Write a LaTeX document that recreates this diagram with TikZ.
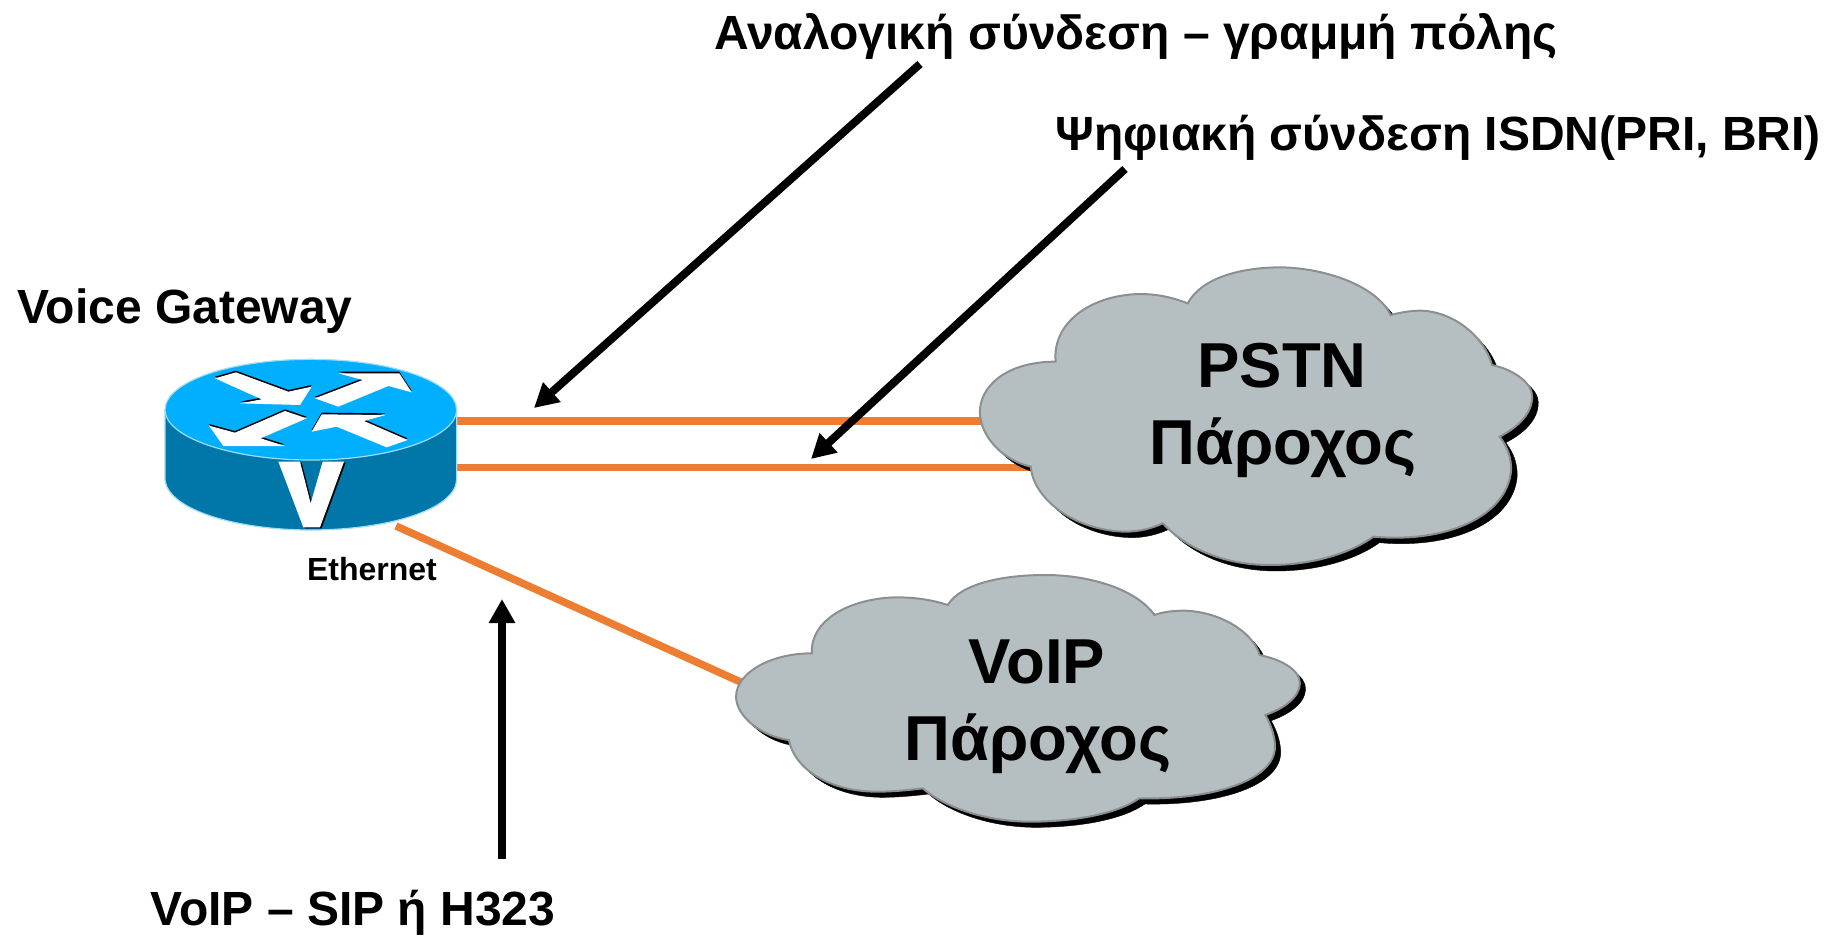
\documentclass[tikz,border=0pt]{standalone}
\usepackage{fontspec}
\setmainfont{Liberation Sans}
\usetikzlibrary{arrows.meta}
\definecolor{orangeline}{HTML}{ED7D31}
\definecolor{cloudfill}{HTML}{B5BFC2}
\definecolor{cloudedge}{HTML}{8C8F91}
\definecolor{routertop}{HTML}{00B0FF}
\definecolor{routerside}{HTML}{0077A8}
\definecolor{routeredge}{HTML}{9FDCF5}
\tikzset{
  lbl/.style={font=\bfseries\fontsize{48}{52}\selectfont,anchor=base,inner sep=0pt,text=black},
  cloudlbl/.style={font=\bfseries\fontsize{63.5}{67}\selectfont,anchor=base,inner sep=0pt,text=black},
  smalllbl/.style={font=\bfseries\fontsize{32}{36}\selectfont,anchor=base,inner sep=0pt,text=black},
  pointer/.style={draw=black,line width=8pt,-{Triangle[length=24pt,width=25pt]}},
  link/.style={draw=orangeline,line width=7.5pt},
  cloudbody/.style={fill=cloudfill,draw=cloudedge,line width=2pt},
  glyph/.style={fill=white,draw=none},
  glyphshadow/.style={fill=black,draw=none}
}
\def\pstnpath{(250,335) .. controls (120,335) and (50,410) .. (52,490) .. controls (55,560) and (110,630) .. (185,650)
 .. controls (190,740) and (290,840) .. (430,845) .. controls (470,845) and (500,835) .. (530,820)
 .. controls (590,895) and (690,945) .. (810,945) .. controls (920,945) and (1020,910) .. (1080,860)
 .. controls (1270,880) and (1430,800) .. (1440,660) .. controls (1440,620) and (1430,590) .. (1410,560)
 .. controls (1460,530) and (1495,490) .. (1495,440) .. controls (1495,400) and (1450,360) .. (1390,345)
 .. controls (1370,260) and (1290,185) .. (1205,182) .. controls (1175,182) and (1150,188) .. (1125,195)
 .. controls (1090,110) and (960,55) .. (840,52) .. controls (730,52) and (630,85) .. (595,160)
 .. controls (550,140) and (510,132) .. (470,132) .. controls (340,135) and (240,220) .. (250,335) -- cycle}
\def\voippath{(240,280) .. controls (130,280) and (42,340) .. (42,410) .. controls (42,470) and (110,530) .. (180,540)
 .. controls (195,630) and (290,695) .. (410,695) .. controls (450,695) and (495,690) .. (530,685)
 .. controls (590,745) and (700,785) .. (810,785) .. controls (930,785) and (1040,760) .. (1095,715)
 .. controls (1290,720) and (1450,660) .. (1450,560) .. controls (1450,530) and (1440,495) .. (1425,465)
 .. controls (1475,445) and (1515,410) .. (1515,370) .. controls (1515,330) and (1470,300) .. (1410,285)
 .. controls (1390,210) and (1300,155) .. (1215,152) .. controls (1185,152) and (1160,155) .. (1135,165)
 .. controls (1090,90) and (970,45) .. (850,45) .. controls (740,45) and (630,70) .. (595,135)
 .. controls (550,118) and (505,112) .. (460,112) .. controls (340,115) and (235,180) .. (240,280) -- cycle}
\def\arrowA{(225,115) -- (288,97) -- (445,155) -- (515,140) -- (480,195) -- (300,190) -- (365,178) -- cycle}
\def\arrowB{(525,175) -- (668,120) -- (595,100) -- (778,100) -- (815,157) -- (745,138) -- (595,200) -- cycle}
\def\arrowC{(207,257) -- (285,278) -- (435,213) -- (500,235) -- (362,295) -- (435,318) -- (250,318) -- cycle}
\def\arrowD{(515,275) -- (545,223) -- (737,225) -- (672,243) -- (803,300) -- (740,322) -- (590,260) -- cycle}
\def\vee{(415,365) -- (480,365) -- (512,490) -- (548,365) -- (612,365) -- (540,562) -- (490,562) -- cycle}
\begin{document}
\begin{tikzpicture}[x=1pt,y=-1pt]
\useasboundingbox (0,0) rectangle (1832,937);
% link end points
\coordinate (routerR1) at (457,421);
\coordinate (routerR2) at (457,467.5);
\coordinate (routerB) at (396,526);
\coordinate (pstnL1) at (985,421);
\coordinate (pstnL2) at (1035,467.5);
\coordinate (voipL) at (745,684);
\draw[link] (routerR1) -- (pstnL1);
\draw[link] (routerR2) -- (pstnL2);
\draw[link] (routerB) -- (voipL);
% PSTN cloud
\begin{scope}[shift={(960,250)},xscale=1/2.613,yscale=1/3]
 \begin{scope}[shift={(16,18)}]
  \fill[black,draw=black] \pstnpath;
 \end{scope}
 \path[cloudbody] \pstnpath;
\end{scope}
% VoIP cloud
\begin{scope}[shift={(720,560)},xscale=1/2.613,yscale=1/3]
 \begin{scope}[shift={(15,17)}]
  \fill[black,draw=black] \voippath;
 \end{scope}
 \path[cloudbody] \voippath;
\end{scope}
% router
\begin{scope}[shift={(140,340)},scale=1/3]
 \path[fill=routerside,draw=routeredge,line width=1.2pt]
   (75,210) -- (75,420) .. controls (85,510) and (290,570) .. (512,570)
   .. controls (740,570) and (945,510) .. (950,420) -- (950,210) -- cycle;
 \path[fill=routertop,draw=routeredge,line width=1.2pt]
   (512,360) .. controls (270,360) and (75,290) .. (75,210)
   .. controls (75,125) and (270,58) .. (512,58)
   .. controls (755,58) and (950,125) .. (950,210)
   .. controls (950,290) and (755,360) .. (512,360) -- cycle;
 \begin{scope}[shift={(0,-5)}]
  \fill[glyphshadow] \arrowA; \fill[glyphshadow] \arrowB;
  \fill[glyphshadow] \arrowC; \fill[glyphshadow] \arrowD;
 \end{scope}
 \fill[glyph] \arrowA; \fill[glyph] \arrowB;
 \fill[glyph] \arrowC; \fill[glyph] \arrowD;
 \begin{scope}[shift={(5,3)}]
  \fill[glyphshadow] \vee;
 \end{scope}
 \fill[glyph] \vee;
\end{scope}
% labels
\node[lbl] (analog) at (1136,49) {Αναλογική σύνδεση – γραμμή πόλης};
\node[lbl] (isdn) at (1438,150) {Ψηφιακή σύνδεση ISDN(PRI, BRI)};
\node[lbl] (gateway) at (185,323) {Voice Gateway};
\node[smalllbl] (ethernet) at (372,580) {Ethernet};
\node[lbl] (voipproto) at (353,925) {VoIP – SIP ή H323};
\node[cloudlbl] (pstn1) at (1282,387) {PSTN};
\node[cloudlbl] (pstn2) at (1283,464) {Πάροχος};
\node[cloudlbl] (voip1) at (1037,683) {VoIP};
\node[cloudlbl] (voip2) at (1038,760) {Πάροχος};
% pointers
\coordinate (aS) at (920,64);
\coordinate (aE) at (534,408);
\coordinate (bS) at (1125,169);
\coordinate (bE) at (811,459);
\coordinate (cS) at (502,859);
\coordinate (cE) at (502,599);
\draw[pointer] (aS) -- (aE);
\draw[pointer] (bS) -- (bE);
\draw[pointer] (cS) -- (cE);
\end{tikzpicture}
\end{document}
